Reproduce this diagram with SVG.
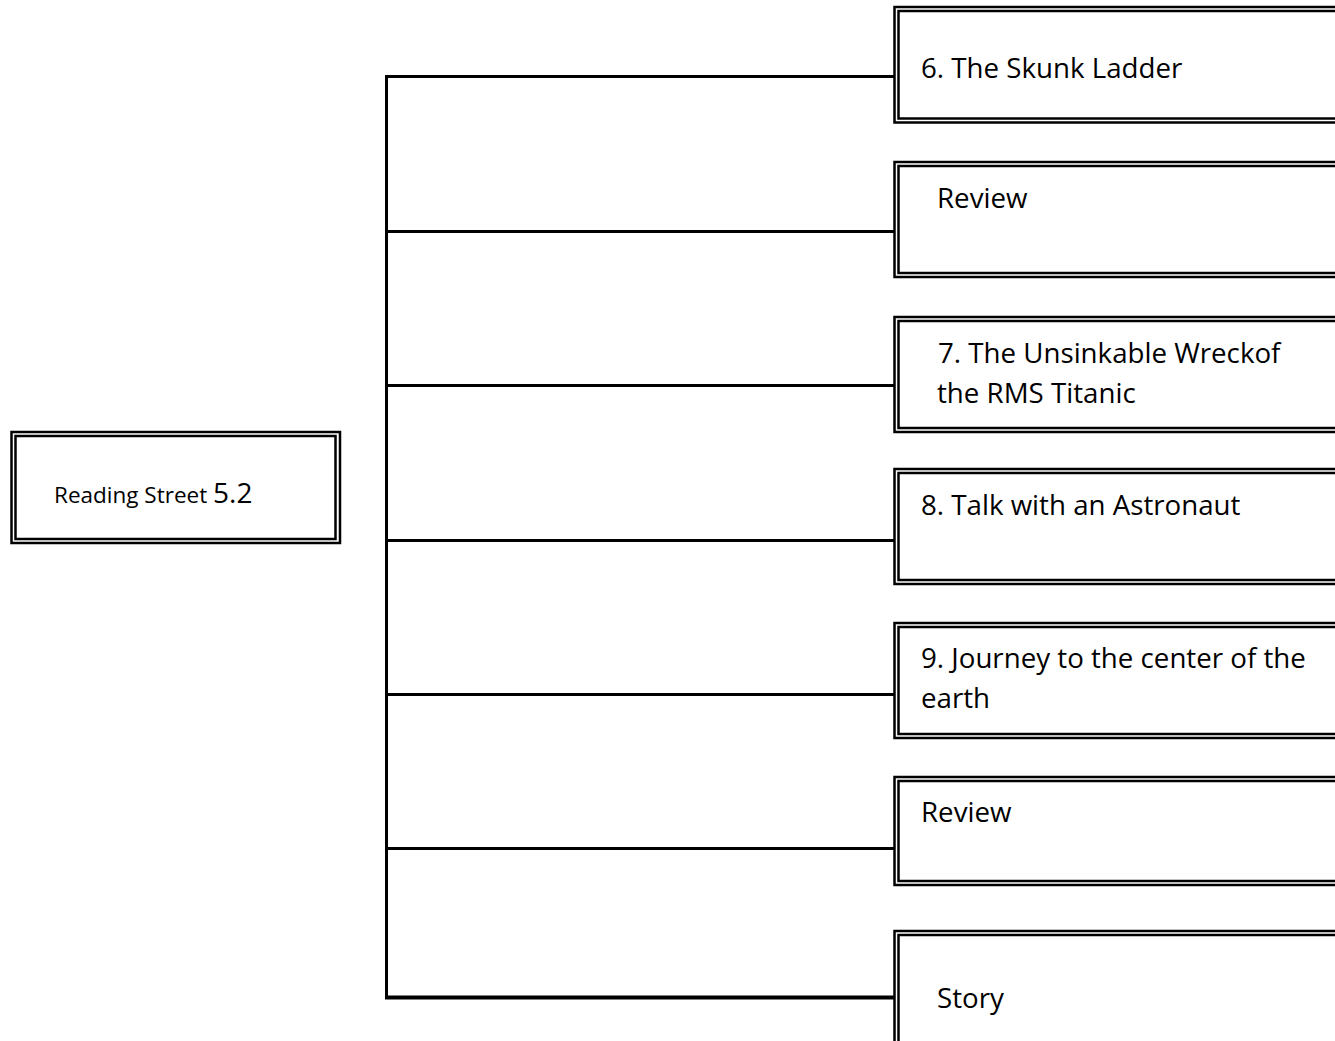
<svg xmlns="http://www.w3.org/2000/svg" width="1335" height="1041" viewBox="0 0 1335 1041">
<style>
.o{fill:#fff;stroke:#000;stroke-width:2.5}
.i{fill:none;stroke:#000;stroke-width:2.5}
.c{stroke:#000;stroke-width:3;fill:none}
.t{font-family:"Open Sans","Liberation Sans",sans-serif;font-size:27.7px;fill:#000}
.s{font-family:"Open Sans","Liberation Sans",sans-serif;font-size:22.5px;fill:#000}
.b{font-family:"Open Sans","Liberation Sans",sans-serif;font-size:28px;fill:#000}
</style>
<rect width="1335" height="1041" fill="#fff"/>
<g id="connectors">
<line class="c" x1="386.5" y1="75" x2="386.5" y2="999"/>
<line class="c" x1="385" y1="76.5" x2="895" y2="76.5"/>
<line class="c" x1="385" y1="231.5" x2="895" y2="231.5"/>
<line class="c" x1="385" y1="385.5" x2="895" y2="385.5"/>
<line class="c" x1="385" y1="540.5" x2="895" y2="540.5"/>
<line class="c" x1="385" y1="694.5" x2="895" y2="694.5"/>
<line class="c" x1="385" y1="848.5" x2="895" y2="848.5"/>
<line class="c" x1="385" y1="997.5" x2="895" y2="997.5" style="stroke-width:4"/>
</g>
<g id="root">
<rect class="o" x="11.5" y="432" width="328.5" height="111"/>
<rect class="i" x="15.5" y="436" width="320" height="103"/>
<text x="54" y="503"><tspan class="s">Reading Street </tspan><tspan class="b">5.2</tspan></text>
</g>
<g id="n1">
<rect class="o" x="894.5" y="7" width="450" height="115.5"/>
<rect class="i" x="898.5" y="11" width="450" height="107.5"/>
<text class="t" x="921" y="78">6. The Skunk Ladder</text>
</g>
<g id="n2">
<rect class="o" x="894.5" y="162" width="450" height="115"/>
<rect class="i" x="898.5" y="166" width="450" height="107"/>
<text class="t" x="937" y="208">Review</text>
</g>
<g id="n3">
<rect class="o" x="894.5" y="317" width="450" height="115"/>
<rect class="i" x="898.5" y="321" width="450" height="107"/>
<text class="t" x="938" y="363">7. The Unsinkable Wreckof</text>
<text class="t" x="937" y="403">the RMS Titanic</text>
</g>
<g id="n4">
<rect class="o" x="894.5" y="469" width="450" height="115"/>
<rect class="i" x="898.5" y="473" width="450" height="107"/>
<text class="t" x="921" y="515">8. Talk with an Astronaut</text>
</g>
<g id="n5">
<rect class="o" x="894.5" y="623" width="450" height="115"/>
<rect class="i" x="898.5" y="627" width="450" height="107"/>
<text class="t" x="921" y="668">9. Journey to the center of the</text>
<text class="t" x="921" y="708">earth</text>
</g>
<g id="n6">
<rect class="o" x="894.5" y="777" width="450" height="108"/>
<rect class="i" x="898.5" y="781" width="450" height="100"/>
<text class="t" x="921" y="822">Review</text>
</g>
<g id="n7">
<rect class="o" x="894.5" y="931" width="450" height="130"/>
<rect class="i" x="898.5" y="935" width="450" height="122"/>
<text class="t" x="937" y="1008">Story</text>
</g>
</svg>
